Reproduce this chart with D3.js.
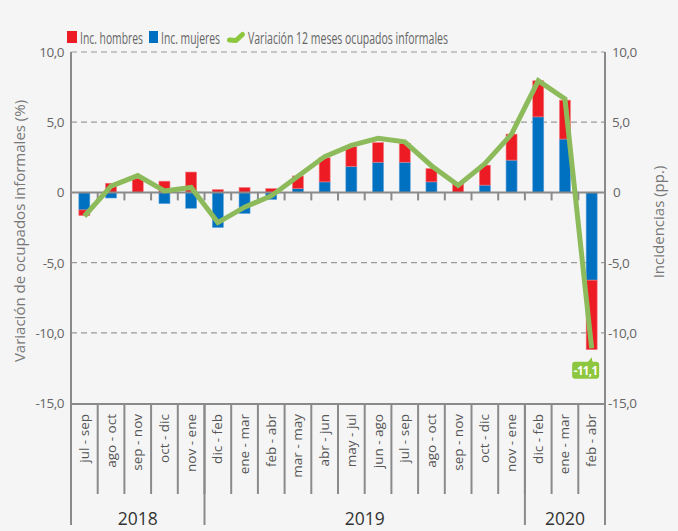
<!DOCTYPE html>
<html><head><meta charset="utf-8">
<script src="https://cdn.jsdelivr.net/npm/d3@7"></script>
<style>
html,body{margin:0;padding:0;background:#f5f5f5;}
svg{display:block;}
</style></head>
<body>
<svg id="chart" width="678" height="531"></svg>
<script>
const categories = ["jul - sep","ago - oct","sep - nov","oct - dic","nov - ene",
  "dic - feb","ene - mar","feb - abr","mar - may","abr - jun","may - jul","jun - ago",
  "jul - sep","ago - oct","sep - nov","oct - dic","nov - ene",
  "dic - feb","ene - mar","feb - abr"];
const years = ["2018","2019","2020"];
const yearCounts = [5,12,3];
const hombres = [-0.4,0.65,1.0,0.8,1.45,0.2,0.35,0.27,0.9,1.72,1.4,1.4,1.35,0.95,0.6,1.42,1.85,2.57,2.77,-4.95];
const mujeres = [-1.25,-0.4,0.0,-0.8,-1.13,-2.5,-1.5,-0.5,0.27,0.75,1.85,2.15,2.15,0.75,0.0,0.52,2.3,5.38,3.8,-6.25];
const variacion = [-1.7,0.45,1.2,0.1,0.35,-2.15,-1.05,-0.25,1.15,2.55,3.35,3.85,3.6,1.9,0.5,2.05,4.15,7.95,6.65,-11.1];
const yTicks = [10,5,0,-5,-10,-15];
const seriesNames = ["Inc. hombres","Inc. mujeres","Variación 12 meses ocupados informales"];

const RED = "#ed1c24", BLUE = "#0070c0", GREEN = "#8dbb5b", GREEN2 = "#8dc63f";
const AX = "#8a8a8a", TXT = "#666";

const svg = d3.select("#chart");
const L = 71, R = 605, T = 52, B = 403;
const x = d3.scaleBand().domain(d3.range(categories.length)).range([L,R]).paddingInner(0).paddingOuter(0);
const y = d3.scaleLinear().domain([-15,10]).range([B,T]);
const bw = 11;

// grid lines
svg.append("g").selectAll("line").data(yTicks.filter(d=>d!==0 && d!==-15)).join("line")
  .attr("x1",L).attr("x2",R).attr("y1",d=>y(d)).attr("y2",d=>y(d))
  .attr("stroke","#9a9a9a").attr("stroke-width",1.2).attr("stroke-dasharray","6,4");

// stacked bars
const rows = categories.map((c,i)=>({i, mujeres:mujeres[i], hombres:hombres[i]}));
const stack = d3.stack().keys(["mujeres","hombres"]).offset(d3.stackOffsetDiverging);
const stacked = stack(rows);
const colors = {mujeres:BLUE, hombres:RED};
const strokes = {mujeres:"#5fa3dc", hombres:"#f47b80"};
svg.append("g").selectAll("g").data(stacked).join("g")
  .attr("fill",s=>colors[s.key]).attr("stroke",s=>strokes[s.key]).attr("stroke-width",0.6)
  .selectAll("rect").data(s=>s).join("rect")
  .attr("x",d=>x(d.data.i)+x.bandwidth()/2-bw/2)
  .attr("width",bw)
  .attr("y",d=>y(Math.max(d[0],d[1])))
  .attr("height",d=>Math.abs(y(d[0])-y(d[1])));

// zero line and ticks
svg.append("line").attr("x1",L).attr("x2",R).attr("y1",y(0)).attr("y2",y(0))
  .attr("stroke",AX).attr("stroke-width",2);
svg.append("g").selectAll("line").data(d3.range(1,categories.length)).join("line")
  .attr("x1",i=>x(i)).attr("x2",i=>x(i)).attr("y1",y(0)).attr("y2",y(0)+8)
  .attr("stroke",AX).attr("stroke-width",2);

// axes lines
svg.append("line").attr("x1",L).attr("x2",L).attr("y1",T).attr("y2",525).attr("stroke",AX).attr("stroke-width",2);
svg.append("line").attr("x1",R).attr("x2",R).attr("y1",T).attr("y2",525).attr("stroke",AX).attr("stroke-width",2);
svg.append("line").attr("x1",L).attr("x2",R).attr("y1",B+1).attr("y2",B+1).attr("stroke",AX).attr("stroke-width",2);

// category separators
svg.append("g").selectAll("line").data(d3.range(1,categories.length)).join("line")
  .attr("x1",i=>x(i)).attr("x2",i=>x(i)).attr("y1",B+1).attr("y2",494)
  .attr("stroke",AX).attr("stroke-width",2);
// year separators
let cum = 0; const yearStarts = [];
yearCounts.forEach(c=>{yearStarts.push(cum); cum+=c;});
svg.append("g").selectAll("line").data(yearStarts.slice(1)).join("line")
  .attr("x1",i=>x(i)).attr("x2",i=>x(i)).attr("y1",B+1).attr("y2",525)
  .attr("stroke",AX).attr("stroke-width",2);

// category labels
svg.append("g").selectAll("text").data(categories).join("text")
  .attr("transform",(d,i)=>`translate(${x(i)+x.bandwidth()/2+4.5},414) rotate(-90)`)
  .attr("text-anchor","end")
  .attr("font-family","'Open Sans', sans-serif").attr("font-size",13.5).attr("fill","#555")
  .text(d=>d);
// year labels
svg.append("g").selectAll("text").data(years).join("text")
  .attr("x",(d,k)=>(x(yearStarts[k]) + (yearStarts[k]+yearCounts[k]>=categories.length ? R : x(yearStarts[k]+yearCounts[k])))/2)
  .attr("y",525).attr("text-anchor","middle")
  .attr("font-family","'Open Sans', sans-serif").attr("font-size",17.5).attr("fill","#333")
  .text(d=>d);

// tick labels
const fmt = d=> d===0 ? "0" : d3.format(".1f")(d).replace(".",",").replace("\u2212","-");
svg.append("g").selectAll("text").data(yTicks).join("text")
  .attr("x",64).attr("y",d=>y(d)+5).attr("text-anchor","end")
  .attr("font-family","'Open Sans', sans-serif").attr("font-size",13.5).attr("fill",TXT).attr("letter-spacing","-0.5")
  .text(fmt);
svg.append("g").selectAll("text").data(yTicks).join("text")
  .attr("x",d=>d===0?613:(d<0?608:612)).attr("y",d=>y(d)+5).attr("text-anchor","start")
  .attr("font-family","'Open Sans', sans-serif").attr("font-size",13.5).attr("fill",TXT).attr("letter-spacing","-0.5")
  .text(fmt);

// axis titles
svg.append("text").attr("transform","translate(25,231) rotate(-90)").attr("text-anchor","middle")
  .attr("font-family","'Open Sans', sans-serif").attr("font-size",15).attr("fill","#777")
  .text("Variación de ocupados informales (%)");
svg.append("text").attr("transform","translate(664,222) rotate(-90)").attr("text-anchor","middle")
  .attr("font-family","'Open Sans', sans-serif").attr("font-size",15).attr("fill","#777")
  .text("Incidencias (pp.)");

// line
const line = d3.line().x((d,i)=>x(i)+x.bandwidth()/2).y(d=>y(d));
svg.append("path").datum(variacion).attr("d",line).attr("fill","none")
  .attr("stroke",GREEN).attr("stroke-width",5).attr("stroke-linejoin","miter");

// label for last point
const li = variacion.length-1;
const lx = x(li)+x.bandwidth()/2 - 6, ly = y(variacion[li]) + 22;
const lab = svg.append("g").attr("transform",`translate(${lx},${ly})`);
lab.append("rect").attr("x",-13.5).attr("y",-8.5).attr("width",27).attr("height",17).attr("rx",3).attr("fill",GREEN2);
lab.append("path").attr("d","M2,-8 L6,-13 L7,-8 Z").attr("fill",GREEN2);
lab.append("text").attr("x",0).attr("y",4.5).attr("text-anchor","middle")
  .attr("font-family","'Open Sans', sans-serif").attr("font-weight","bold").attr("font-size",11.5).attr("fill","#fff").attr("letter-spacing","-0.6")
  .text(fmt(variacion[li]));

// legend (condensed by horizontal scaling to match reference widths)
const lgFont = "'Open Sans', sans-serif";
const lg = svg.append("g");
function legendText(x0, target, str){
  const g = lg.append("g");
  const t = g.append("text").attr("x",0).attr("y",0).attr("font-family",lgFont).attr("font-size",16.5).attr("fill",TXT).text(str);
  const w = t.node().getComputedTextLength();
  g.attr("transform",`translate(${x0},43.5) scale(${target/w},1)`);
}
lg.append("rect").attr("x",67).attr("y",31).attr("width",10).attr("height",12).attr("fill",RED);
legendText(80,63,seriesNames[0]);
lg.append("rect").attr("x",149).attr("y",31).attr("width",9).attr("height",12).attr("fill",BLUE);
legendText(161,59,seriesNames[1]);
lg.append("path").attr("d","M229.5,40 L236,40.5 L242.5,34.5").attr("fill","none").attr("stroke",GREEN2).attr("stroke-width",5).attr("stroke-linecap","round").attr("stroke-linejoin","round");
legendText(248,200,seriesNames[2]);
</script>
</body></html>
